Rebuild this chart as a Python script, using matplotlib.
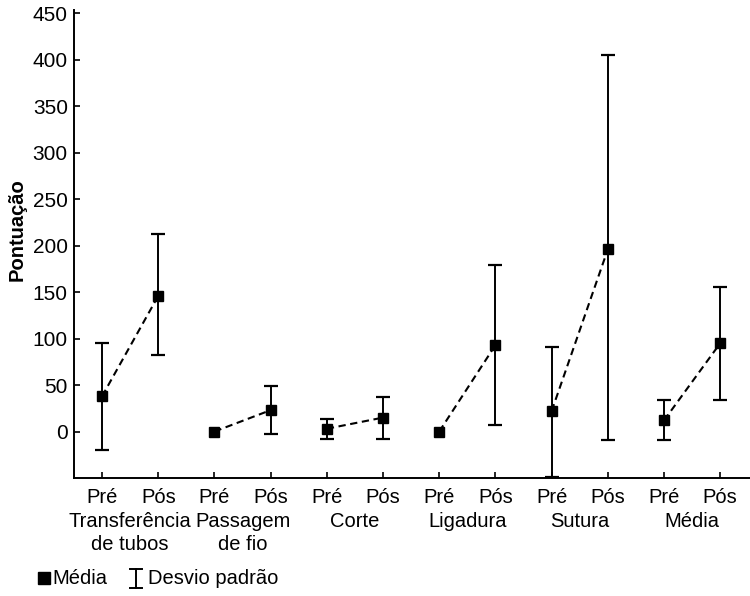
import matplotlib
matplotlib.use("Agg")
import matplotlib.pyplot as plt
from matplotlib import font_manager
from matplotlib.lines import Line2D

names = {f.name for f in font_manager.fontManager.ttflist}
fam = 'Liberation Sans Narrow' if 'Liberation Sans Narrow' in names else 'Liberation Sans'
plt.rcParams['font.family'] = [fam, 'DejaVu Sans']

groups = ["Transferência\nde tubos", "Passagem\nde fio", "Corte", "Ligadura", "Sutura", "Média"]
phases = ["Pré", "Pós"]
means = [38, 146, 0, 23, 3, 15, 0, 93, 22, 196, 12, 95]
upper = [95, 213, 0, 49, 14, 37, 0, 179, 91, 405, 34, 155]
lower = [-20, 82, 0, -3, -8, -8, 0, 7, -49, -9, -9, 34]
yticks = [0, 50, 100, 150, 200, 250, 300, 350, 400, 450]

FS = 14.5
fig = plt.figure(figsize=(7.5, 5.96), dpi=100)
ax = fig.add_axes([74/750, 1-478/596, 1-74/750, (478-10)/596])

x = list(range(len(means)))
for i in range(len(means)):
    if upper[i] != lower[i]:
        ax.errorbar(x[i], means[i], yerr=[[means[i]-lower[i]], [upper[i]-means[i]]],
                    fmt='none', ecolor='black', elinewidth=1.4, capsize=5, capthick=1.6, zorder=2)
for g in range(len(groups)):
    i0, i1 = 2*g, 2*g+1
    ax.plot([x[i0], x[i1]], [means[i0], means[i1]], linestyle=(0, (3.5, 2.2)), color='black', lw=1.5, zorder=3)
ax.plot(x, means, 's', color='black', markersize=7.5, linestyle='none', zorder=4)

ax.set_xlim(-0.5, 11.53)
ax.set_ylim(-50, 453.5)
ax.set_yticks(yticks)
ax.set_yticklabels([str(v) for v in yticks], fontsize=15)
ax.set_xticks(x)
ax.set_xticklabels([phases[i % 2] for i in x], fontsize=FS)
ax.tick_params(axis='both', direction='in', length=4, width=1.2, colors='black')
ax.tick_params(axis='y', pad=4.5)
ax.tick_params(axis='x', pad=7)
for s in ['top', 'right']:
    ax.spines[s].set_visible(False)
for s in ['left', 'bottom']:
    ax.spines[s].set_linewidth(1.4)

tr = matplotlib.transforms.blended_transform_factory(ax.transData, fig.transFigure)
for g, name in enumerate(groups):
    xc = (x[2*g] + x[2*g+1]) / 2
    ax.text(xc, 1-512/596, name, transform=tr, ha='center', va='top', fontsize=FS, linespacing=1.25)

fig.text(17/750, 1-230/596, "Pontuação", rotation=90, ha='center', va='center', fontsize=14.5, fontweight='bold')

# legend
fig.add_artist(Line2D([44/750], [1-578/596], marker='s', color='black', markersize=9, linestyle='none'))
fig.text(52/750, 1-578/596, "Média", ha='left', va='center', fontsize=FS)
xb = 136/750
fig.add_artist(Line2D([xb, xb], [1-569/596, 1-588/596], color='black', lw=1.4))
fig.add_artist(Line2D([xb-6/750, xb+6/750], [1-569/596, 1-569/596], color='black', lw=1.4))
fig.add_artist(Line2D([xb-6/750, xb+6/750], [1-588/596, 1-588/596], color='black', lw=1.4))
fig.text(148/750, 1-578/596, "Desvio padrão", ha='left', va='center', fontsize=FS)

fig.savefig("out.png", dpi=100)
